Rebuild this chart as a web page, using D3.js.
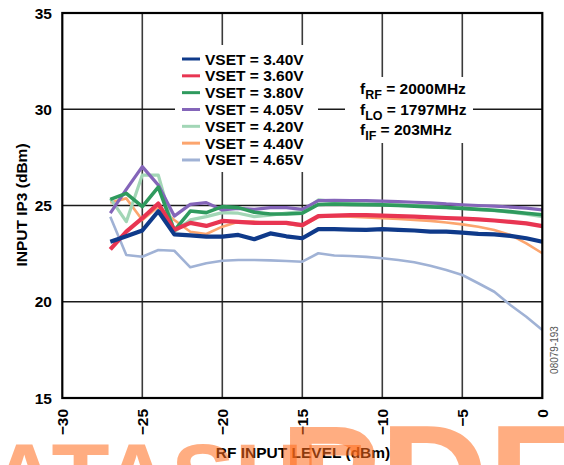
<!DOCTYPE html>
<html>
<head>
<meta charset="utf-8">
<script src="https://cdn.jsdelivr.net/npm/d3@7"></script>
<style>
  html, body { margin: 0; padding: 0; background: #fff; }
  svg { display: block; }
  text { font-family: "Liberation Sans", Arial, sans-serif; font-weight: bold; }
</style>
</head>
<body>
<svg id="chart" width="564" height="465"></svg>
<script>
// RF input level (dBm) at which IIP3 was measured
const rfInput = [-27, -26, -25, -24, -23, -22, -21, -20, -19, -18, -17, -16, -15, -14,
                 -13, -12, -11, -10, -9, -8, -7, -6, -5, -4, -3, -2, -1, 0];

// Input IP3 (dBm) for each VSET setting
const vset340 = [23.12, 23.4, 23.7, 24.7, 23.5, 23.45, 23.38, 23.38, 23.47, 23.25, 23.55, 23.4, 23.3, 23.77,
                 23.77, 23.75, 23.73, 23.77, 23.73, 23.7, 23.64, 23.64, 23.59, 23.53, 23.5, 23.42, 23.3, 23.12];
const vset360 = [22.72, 23.64, 24.34, 25.1, 23.73, 24.1, 23.94, 24.2, 24.15, 24.1, 24.1, 24.1, 23.98, 24.45,
                 24.47, 24.5, 24.5, 24.47, 24.45, 24.42, 24.38, 24.35, 24.32, 24.28, 24.22, 24.15, 24.07, 23.93];
const vset380 = [25.32, 25.63, 24.94, 25.95, 23.7, 24.71, 24.63, 24.94, 24.89, 24.65, 24.56, 24.56, 24.6, 25.05,
                 25.08, 25.06, 25.04, 25.03, 25.0, 24.97, 24.93, 24.9, 24.85, 24.8, 24.75, 24.68, 24.6, 24.52];
const vset405 = [24.6, 25.84, 27.02, 26.06, 24.45, 25.06, 25.15, 24.77, 24.85, 24.8, 24.89, 24.89, 24.8, 25.25,
                 25.27, 25.26, 25.25, 25.23, 25.2, 25.17, 25.14, 25.08, 25.04, 25.0, 24.97, 24.92, 24.86, 24.77];
const vset420 = [25.37, 24.16, 26.58, 26.58, 23.64, 24.25, 24.42, 24.63, 24.6, 24.42, 24.5, 24.6, 24.68, 25.29,
                 25.2, 25.17, 25.13, 25.08, 25.05, 25.0, 24.96, 24.9, 24.85, 24.8, 24.73, 24.65, 24.55, 24.42];
const vset440 = [25.15, 25.37, 24.25, 24.94, 24.25, 23.64, 23.52, 23.9, 24.16, 24.16, 24.07, 24.05, 23.93, 24.4,
                 24.45, 24.42, 24.38, 24.34, 24.3, 24.25, 24.2, 24.12, 24.02, 23.9, 23.73, 23.47, 23.03, 22.52];
const vset465 = [24.42, 22.43, 22.34, 22.69, 22.65, 21.79, 22.0, 22.13, 22.17, 22.17, 22.15, 22.12, 22.08, 22.52,
                 22.4, 22.38, 22.33, 22.26, 22.17, 22.05, 21.87, 21.65, 21.39, 20.96, 20.52, 19.83, 19.22, 18.53];

const seriesLabels = ["VSET = 3.40V", "VSET = 3.60V", "VSET = 3.80V", "VSET = 4.05V",
                      "VSET = 4.20V", "VSET = 4.40V", "VSET = 4.65V"];
const seriesValues = [vset340, vset360, vset380, vset405, vset420, vset440, vset465];
const seriesColors = ["#0f3a8a", "#e83552", "#2f9a5e", "#8465b9", "#a2d6b6", "#fca56e", "#a0b2d5"];
const seriesWidths = [4.2, 4.2, 3.6, 3.2, 3.2, 2.6, 2.6];

const xTicks = [-30, -25, -20, -15, -10, -5, 0];
const yTicks = [15, 20, 25, 30, 35];
const conditions = [["f", "RF", " = 2000MHz"], ["f", "LO", " = 1797MHz"], ["f", "IF", " = 203MHz"]];

const svg = d3.select("#chart");
const x = d3.scaleLinear().domain([-30, 0]).range([62.3, 542.3]);
const y = d3.scaleLinear().domain([15, 35]).range([398, 13]);

// grid
const grid = svg.append("g");
grid.selectAll("line.v").data(xTicks.slice(1, -1)).join("line")
  .attr("x1", d => x(d)).attr("x2", d => x(d))
  .attr("y1", y(35)).attr("y2", y(15))
  .attr("stroke", "#3a3a3a").attr("stroke-width", 1.6);
grid.selectAll("line.h").data(yTicks.slice(1, -1)).join("line")
  .attr("x1", x(-30)).attr("x2", x(0))
  .attr("y1", d => y(d)).attr("y2", d => y(d))
  .attr("stroke", "#1a1a1a").attr("stroke-width", 1.6);

// blank panels behind legend and conditions text
svg.append("rect").attr("x", 175).attr("y", 45).attr("width", 143).attr("height", 127).attr("fill", "#fff");
svg.append("rect").attr("x", 345).attr("y", 77).attr("width", 128).attr("height", 66).attr("fill", "#fff");

// curves (last setting drawn first so 3.40V sits on top)
const line = d3.line().x((d, i) => x(rfInput[i])).y(d => y(d));
const order = d3.range(seriesValues.length).reverse();
svg.append("g").selectAll("path").data(order).join("path")
  .attr("d", i => line(seriesValues[i]))
  .attr("fill", "none")
  .attr("stroke", i => seriesColors[i])
  .attr("stroke-width", i => seriesWidths[i])
  .attr("stroke-linejoin", "round");

// frame
svg.append("rect").attr("x", x(-30)).attr("y", y(35))
  .attr("width", x(0) - x(-30)).attr("height", y(15) - y(35))
  .attr("fill", "none").attr("stroke", "#000").attr("stroke-width", 2.2);

// y tick labels
svg.append("g").selectAll("text").data(yTicks).join("text")
  .attr("x", 52).attr("y", d => y(d)).attr("dy", "0.36em")
  .attr("text-anchor", "end").attr("font-size", 15.5).text(d => d);

// x tick labels (rotated)
svg.append("g").selectAll("text").data(xTicks).join("text")
  .attr("transform", d => `translate(${x(d)},409) rotate(-90)`)
  .attr("dy", "0.36em").attr("text-anchor", "end").attr("font-size", 15.5)
  .text(d => d < 0 ? "\u2212" + Math.abs(d) : d);

// axis titles
svg.append("text").attr("transform", "translate(21,205) rotate(-90)")
  .attr("dy", "0.36em").attr("text-anchor", "middle").attr("font-size", 15.5)
  .text("INPUT IP3 (dBm)");
svg.append("text").attr("x", 303).attr("y", 458)
  .attr("text-anchor", "middle").attr("font-size", 15.5)
  .text("RF INPUT LEVEL (dBm)");

// legend
const legend = svg.append("g");
const rowY = i => 64.5 + i * 16.83;
legend.selectAll("line").data(seriesLabels).join("line")
  .attr("x1", 182).attr("x2", 200)
  .attr("y1", (d, i) => rowY(i) - 5.5).attr("y2", (d, i) => rowY(i) - 5.5)
  .attr("stroke", (d, i) => seriesColors[i]).attr("stroke-width", 3);
legend.selectAll("text").data(seriesLabels).join("text")
  .attr("x", 205).attr("y", (d, i) => rowY(i))
  .attr("font-size", 15.5).text(d => d);

// test conditions
const condY = [94, 115, 135];
conditions.forEach((c, i) => {
  const t = svg.append("text").attr("x", 360).attr("y", condY[i]).attr("font-size", 15.5);
  t.append("tspan").text(c[0]);
  t.append("tspan").attr("dy", 5).attr("font-size", 12.5).text(c[1]);
  t.append("tspan").attr("dy", -5).text(c[2]);
});

// figure number
svg.append("text").attr("transform", "translate(554,350) rotate(-90)")
  .attr("text-anchor", "middle").attr("dy", "0.36em")
  .attr("font-size", 10).style("font-weight", "normal").attr("fill", "#555")
  .text("08079-193");

// watermark
const wm = svg.append("g").attr("fill", "#ff6a1a").attr("fill-opacity", 0.55)
  .style("font-family", "'Liberation Serif', 'Times New Roman', serif");
wm.append("text").attr("x", 280).attr("y", 530).attr("font-size", 150).text("PDF");
wm.append("text").attr("x", -10).attr("y", 510).attr("font-size", 95).text("ATASHE");
</script>
</body>
</html>
